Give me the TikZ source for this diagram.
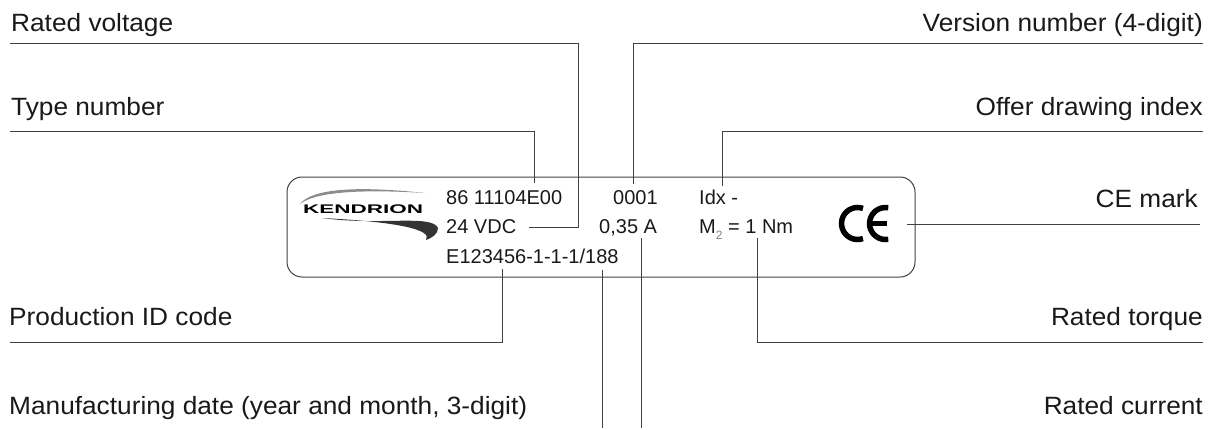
\documentclass[tikz,border=0pt]{standalone}
\usepackage{fontspec}
\setmainfont{Liberation Sans}
\newfontfamily\labelfont{Liberation Sans}[FakeStretch=1.05]
\begin{document}
\begin{tikzpicture}[x=1pt,y=-1pt,
  lbl/.style={inner sep=0pt, font=\labelfont\fontsize{25}{30}\selectfont, text=black!90},
  plt/.style={inner sep=0pt, anchor=base west, font=\fontsize{20}{24}\selectfont, text=black!90},
  conn/.style={draw=black!75, line width=1pt},
  platebox/.style={draw=black!75, line width=1pt, rounded corners=15pt, minimum width=628pt, minimum height=100pt, inner sep=0pt},
  cestroke/.style={line width=5.5pt, draw=black}
]
\useasboundingbox (0,0) rectangle (1214,429);

% labels
\node[lbl,anchor=base west] (rv) at (11,31) {Rated voltage};
\node[lbl,anchor=base west] (tn) at (11,115) {Type number};
\node[lbl,anchor=base west] (pid) at (9,325) {Production ID code};
\node[lbl,anchor=base west] (md) at (9,414) {Manufacturing date (year and month, 3-digit)};
\node[lbl,anchor=base east] (vn) at (1203,31) {Version number (4-digit)};
\node[lbl,anchor=base east] (od) at (1203,115) {Offer drawing index};
\node[lbl,anchor=base east] (cel) at (1198,207) {CE mark};
\node[lbl,anchor=base east] (rt) at (1203,325) {Rated torque};
\node[lbl,anchor=base east] (rc) at (1203,414) {Rated current};

% plate
\node[platebox] (plate) at (601,227) {};

% plate texts
\node[plt] (t1) at (446,204) {86 11104E00};
\node[plt] (t2) at (446,233) {24 VDC};
\node[plt] (t3) at (446,263) {E123456-1-1-1/188};
\node[plt] (t4) at (613,204) {0001};
\node[plt] (t5) at (599,233) {0,35 A};
\node[plt] (t6) at (699,204) {Idx -};
\node[plt] (t7) at (699,233) {M\raisebox{-0.3em}{\fontsize{12}{12}\selectfont\color{black!50}2} = 1 Nm};

% logo
\fill[black!45] (300,204) .. controls (312,188) and (360,186) .. (425,193) .. controls (360,189) and (315,192) .. (300,204);
\fill[black!80] (322,218) .. controls (380,226) and (432,214) .. (438,228) .. controls (438,234) and (432,238) .. (426,240) .. controls (433,230) and (400,222) .. (322,218);
\node[inner sep=0pt, anchor=base west, font=\bfseries\fontsize{12.5}{13}\selectfont] (logo) at (303,213) {\scalebox{1.8}[1]{KENDRION}};

% CE mark
\coordinate (cC) at (857.5,223.5);
\coordinate (cE) at (885.5,223.5);
\draw[cestroke] (cC) ++(70:16) arc[start angle=70, end angle=290, radius=16];
\draw[cestroke] (cE) ++(80:16) arc[start angle=80, end angle=280, radius=16];
\draw[line width=4.5pt] (cE) ++(-16,0) -- ++(17,0);

% connector coordinates
\coordinate (tnA) at (10,131);  \coordinate (tnB) at (534,131);  \coordinate (tnC) at (534,183);
\coordinate (rvA) at (10,43);   \coordinate (rvB) at (578,43);   \coordinate (rvC) at (578,227); \coordinate (rvD) at (529,227);
\coordinate (vnA) at (1203,43); \coordinate (vnB) at (633,43);   \coordinate (vnC) at (633,184);
\coordinate (odA) at (1203,131);\coordinate (odB) at (722,131);  \coordinate (odC) at (722,186);
\coordinate (ceA) at (907,224); \coordinate (ceB) at (1200,224);
\coordinate (pidA) at (502,269);\coordinate (pidB) at (502,342); \coordinate (pidC) at (10,342);
\coordinate (mdA) at (602,270); \coordinate (mdB) at (602,428);
\coordinate (rcA) at (641,238); \coordinate (rcB) at (641,428);
\coordinate (rtA) at (757,238); \coordinate (rtB) at (757,342);  \coordinate (rtC) at (1203,342);

\draw[conn] (tnA) -- (tnB) -- (tnC);
\draw[conn] (rvA) -- (rvB) -- (rvC) -- (rvD);
\draw[conn] (vnA) -- (vnB) -- (vnC);
\draw[conn] (odA) -- (odB) -- (odC);
\draw[conn] (ceA) -- (ceB);
\draw[conn] (pidA) -- (pidB) -- (pidC);
\draw[conn] (mdA) -- (mdB);
\draw[conn] (rcA) -- (rcB);
\draw[conn] (rtA) -- (rtB) -- (rtC);
\end{tikzpicture}
\end{document}
